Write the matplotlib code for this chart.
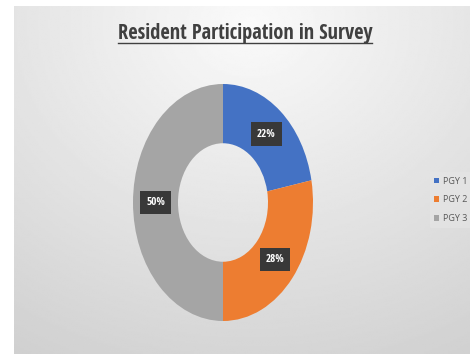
import numpy as np
import matplotlib.pyplot as plt
from matplotlib.lines import Line2D
from matplotlib import font_manager

labels = ['PGY 1', 'PGY 2', 'PGY 3']
shares = [22, 28, 50]
colors = ['#4472C4', '#ED7D31', '#A5A5A5']
title = 'Resident Participation in Survey'

# pick a face close to Calibri if there is one
names = {f.name for f in font_manager.fontManager.ttflist}
face = 'DejaVu Sans'
for cand in ['Liberation Sans Narrow', 'Open Sans Condensed', 'Lato', 'Open Sans']:
    if cand in names:
        face = cand
        break
legface = 'Open Sans' if 'Open Sans' in names else 'DejaVu Sans'

fig = plt.figure(figsize=(4.7, 3.54), dpi=100)
fig.patch.set_facecolor('white')

# gray gradient panel behind the chart
bg = fig.add_axes([14 / 470, 0, 1 - 14 / 470, 1 - 6 / 354])
yy, xx = np.mgrid[0:1:200j, 0:1:260j]
d = np.sqrt(((xx - 0.52) * 1.1) ** 2 + ((yy - 0.05) * 1.0) ** 2)
shade = 0.98 - 0.15 * np.clip(d, 0, 1.2)
bg.imshow(shade, cmap='gray', vmin=0, vmax=1, aspect='auto',
          extent=(0, 1, 1, 0), interpolation='bilinear')
bg.set_axis_off()

# donut, slightly taller than wide as in the original
ax = fig.add_axes([133 / 470, 33 / 354, 180 / 470, 237 / 354])
wedges, _ = ax.pie(shares, colors=colors, startangle=90, counterclock=False,
                   radius=1.0, wedgeprops=dict(width=0.5, linewidth=0))
ax.set_aspect('auto')
ax.set_xlim(-1, 1)
ax.set_ylim(-1, 1)

for w, s in zip(wedges, shares):
    mid = np.radians((w.theta1 + w.theta2) / 2)
    x, y = 0.75 * np.cos(mid), 0.75 * np.sin(mid)
    ax.text(x, y, f'{s}%', ha='center', va='center', color='white',
            fontsize=8, fontweight='bold', family=face,
            bbox=dict(boxstyle='square,pad=0.55', fc='#383838', ec='none'))

# title with underline, sized to span the same width as the original
t = fig.text(245 / 470, 1 - 33 / 354, title, ha='center', va='center',
             fontsize=13, fontweight='bold', family=face, color='#404040')
r = fig.canvas.get_renderer()
w = t.get_window_extent(renderer=r).width
t.set_fontsize(13 * 254 / w)
fig.add_artist(Line2D([118 / 470, 372 / 470], [1 - 43 / 354, 1 - 43 / 354],
                      color='#404040', lw=1.0, transform=fig.transFigure))

leg = fig.legend(wedges, labels, loc='center left',
                 bbox_to_anchor=(425 / 470, 1 - 200 / 354),
                 frameon=True, handlelength=0.6, handleheight=0.6,
                 handletextpad=0.4, labelspacing=1.1, borderpad=0.5,
                 prop={'family': legface, 'size': 6.5})
leg.get_frame().set_facecolor('#e6e6e6')
leg.get_frame().set_edgecolor('none')
leg.get_frame().set_alpha(0.6)
for txt in leg.get_texts():
    txt.set_color('#595959')

fig.savefig('out.png', dpi=100)
